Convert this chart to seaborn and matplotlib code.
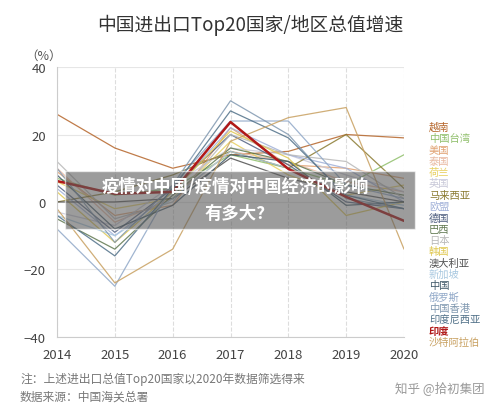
import matplotlib
matplotlib.use("Agg")
import matplotlib.pyplot as plt
import seaborn as sns
import pandas as pd

sns.set_style("white")
plt.rcParams['font.family'] = ['Noto Sans CJK SC', 'DejaVu Sans']

years = [2014, 2015, 2016, 2017, 2018, 2019, 2020]
countries = ["越南", "中国台湾", "美国", "泰国", "荷兰", "英国", "马来西亚", "欧盟", "德国", "巴西",
             "日本", "韩国", "澳大利亚", "新加坡", "中国", "俄罗斯", "中国香港", "印度尼西亚", "印度", "沙特阿拉伯"]
colors = ["#b5652a", "#8fbf6a", "#e0a070", "#e8b8a0", "#e8d060", "#c8c8d8", "#8a7a30", "#a0b0d8", "#506080", "#607850",
          "#b8b8b8", "#e0c850", "#505050", "#a8c8e0", "#405868", "#90a8c8", "#8098b0", "#507088", "#b01818", "#c8a060"]
values = {
    "越南":     [26, 16, 10, 14, 15, 20, 19],
    "中国台湾": [7, 2, 4, 14, 10, 5, 14],
    "美国":     [9, -4, -1, 22, 11, 10, 7],
    "泰国":     [10, -6, 1, 15, 12, 6, 3],
    "荷兰":     [6, -2, 1, 18, 8, 2, 5],
    "英国":     [-3, -7, 5, 16, 14, 8, 3],
    "马来西亚": [0, 3, 8, 15, 10, 20, 4],
    "欧盟":     [4, -10, 3, 22, 14, 10, 0],
    "德国":     [5, -9, 4, 20, 11, 0, -2],
    "巴西":     [-5, -14, 2, 16, 12, 5, 2],
    "日本":     [12, -5, 0, 20, 14, 12, 1],
    "韩国":     [3, -12, 3, 21, 13, -4, 0],
    "澳大利亚": [0, 0, 1, 13, 7, 3, 0],
    "新加坡":   [-4, -10, 1, 15, 10, 2, -1],
    "中国":     [8, -8, -1, 14, 12, -1, 0],
    "俄罗斯":   [-8, -25, 5, 24, 24, 5, 1],
    "中国香港": [10, -12, 5, 30, 20, 1, -2],
    "印度尼西亚": [-4, -16, 4, 27, 19, 2, -2],
    "印度":     [6.2, 2.4, 3, 23.7, 9.8, 1.5, -5.6],
    "沙特阿拉伯": [-2, -24, -14, 18, 25, 28, -14],
}
rows = [(c, y, v) for c in countries for y, v in zip(years, values[c])]
df = pd.DataFrame(rows, columns=["country", "year", "value"])

fig = plt.figure(figsize=(5.0, 4.1), dpi=100)
fig.patch.set_facecolor("white")
ax = fig.add_axes([0.114, 0.176, 0.694, 0.658])
pal = dict(zip(countries, colors))
order = [c for c in countries if c != "印度"] + ["印度"]
sns.lineplot(data=df, x="year", y="value", hue="country", hue_order=order, palette=pal,
             legend=False, ax=ax, linewidth=0.9, alpha=0.85)
for l in ax.lines:
    if l.get_color() == "#b01818":
        l.set_linewidth(1.8); l.set_alpha(1)
ax.set_xlim(2014, 2020)
ax.set_ylim(-40, 40)
ax.set_yticks([-40, -20, 0, 20, 40])
ax.set_xticks(years)
ax.set_xlabel(""); ax.set_ylabel("")
ax.grid(axis="x", linestyle="--", color="#dddddd", linewidth=0.8)
ax.grid(axis="y", linestyle="-", color="#e6e6e6", linewidth=0.8)
for s in ["top", "right"]:
    ax.spines[s].set_visible(False)
ax.spines["left"].set_color("#cccccc")
ax.spines["bottom"].set_color("#cccccc")
ax.tick_params(labelsize=9.5, colors="#444444", length=0)
ax.tick_params(axis="x", pad=8)
ax.tick_params(axis="y", pad=8)
ax.text(-0.09, 1.03, "（%）", transform=ax.transAxes, fontsize=9, color="#555555", ha="left")

fig.text(0.5, 0.925, "中国进出口Top20国家/地区总值增速", ha="center", fontsize=13.5, color="#333333")
for i, (c, col) in enumerate(zip(countries, colors)):
    y = 0.688 - i * 0.0276
    fig.text(0.858, y, c, fontsize=7.4, color=col, va="center",
             fontweight="bold" if c == "印度" else "normal")
fig.patches.append(plt.Rectangle((0.13, 0.44), 0.70, 0.14, transform=fig.transFigure,
                                 facecolor="#5a5a5a", alpha=0.6, zorder=5))
fig.text(0.47, 0.545, "疫情对中国/疫情对中国经济的影响", ha="center", va="center", fontsize=12.5,
         color="white", fontweight="bold", zorder=6)
fig.text(0.47, 0.478, "有多大?", ha="center", va="center", fontsize=12.5, color="white", fontweight="bold", zorder=6)
fig.text(0.04, 0.065, "注：上述进出口总值Top20国家以2020年数据筛选得来", fontsize=8.5, color="#777777")
fig.text(0.04, 0.022, "数据来源：中国海关总署", fontsize=8.5, color="#777777")
fig.text(0.97, 0.045, "知乎 @拾初集团", fontsize=9, color="#999999", ha="right")
fig.savefig("out.png", dpi=100)
